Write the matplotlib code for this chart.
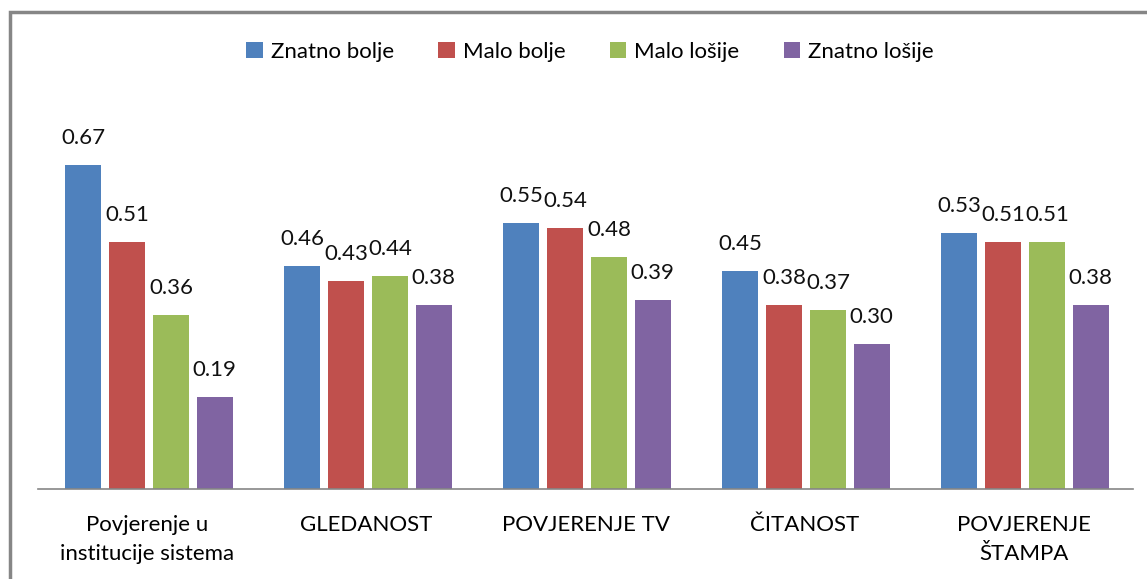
import matplotlib
matplotlib.use("Agg")
import matplotlib.pyplot as plt
import numpy as np
from matplotlib.patches import Rectangle

categories = ["Povjerenje u\ninstitucije sistema", "GLEDANOST", "POVJERENJE TV", "ČITANOST", "POVJERENJE\nŠTAMPA"]
series_names = ["Znatno bolje", "Malo bolje", "Malo lošije", "Znatno lošije"]
znatno_bolje = [0.67, 0.46, 0.55, 0.45, 0.53]
malo_bolje = [0.51, 0.43, 0.54, 0.38, 0.51]
malo_losije = [0.36, 0.44, 0.48, 0.37, 0.51]
znatno_losije = [0.19, 0.38, 0.39, 0.30, 0.38]
series = [znatno_bolje, malo_bolje, malo_losije, znatno_losije]
colors = ["#4F81BD", "#C0504D", "#9BBB59", "#8064A2"]

plt.rcParams['font.family'] = ['Lato', 'DejaVu Sans']
W, H = 1147, 579
fig = plt.figure(figsize=(W/100, H/100), dpi=100)
ax = fig.add_axes([38/W, (H-489)/H, (1133-38)/W, (489-102)/H])

x = np.arange(len(categories))
step = 0.2
width = 0.165
for i, (vals, name, c) in enumerate(zip(series, series_names, colors)):
    pos = x + (i - 1.5) * step + 0.007
    ax.bar(pos, vals, width, color=c, label=name)
    for p, v in zip(pos, vals):
        ax.annotate(f"{v:.2f}", (p, v), xytext=(0, 19.5), textcoords="offset points",
                    ha="center", va="center", fontsize=16, color="#111111")

ax.set_xlim(-0.5, len(categories) - 0.5)
ax.set_ylim(0, 0.8)
ax.set_yticks([])
ax.set_xticks(x)
ax.set_xticklabels(categories, fontsize=16, linespacing=1.55)
ax.tick_params(axis='x', length=0, pad=19)
for s in ["top", "right", "left"]:
    ax.spines[s].set_visible(False)
ax.spines["bottom"].set_color("#868686")
ax.spines["bottom"].set_linewidth(1.2)

fig.patches.append(Rectangle((10/W, -0.05), 1.2, (H-12)/H + 0.05, transform=fig.transFigure,
                             fill=False, edgecolor="#868686", linewidth=2.5))

fig.legend(loc="center", bbox_to_anchor=(590/W, 1-52/H), ncol=4, frameon=False,
           fontsize=16, handlelength=0.75, handleheight=0.75, handletextpad=0.35, columnspacing=2.0)

fig.savefig("out.png", dpi=100)
